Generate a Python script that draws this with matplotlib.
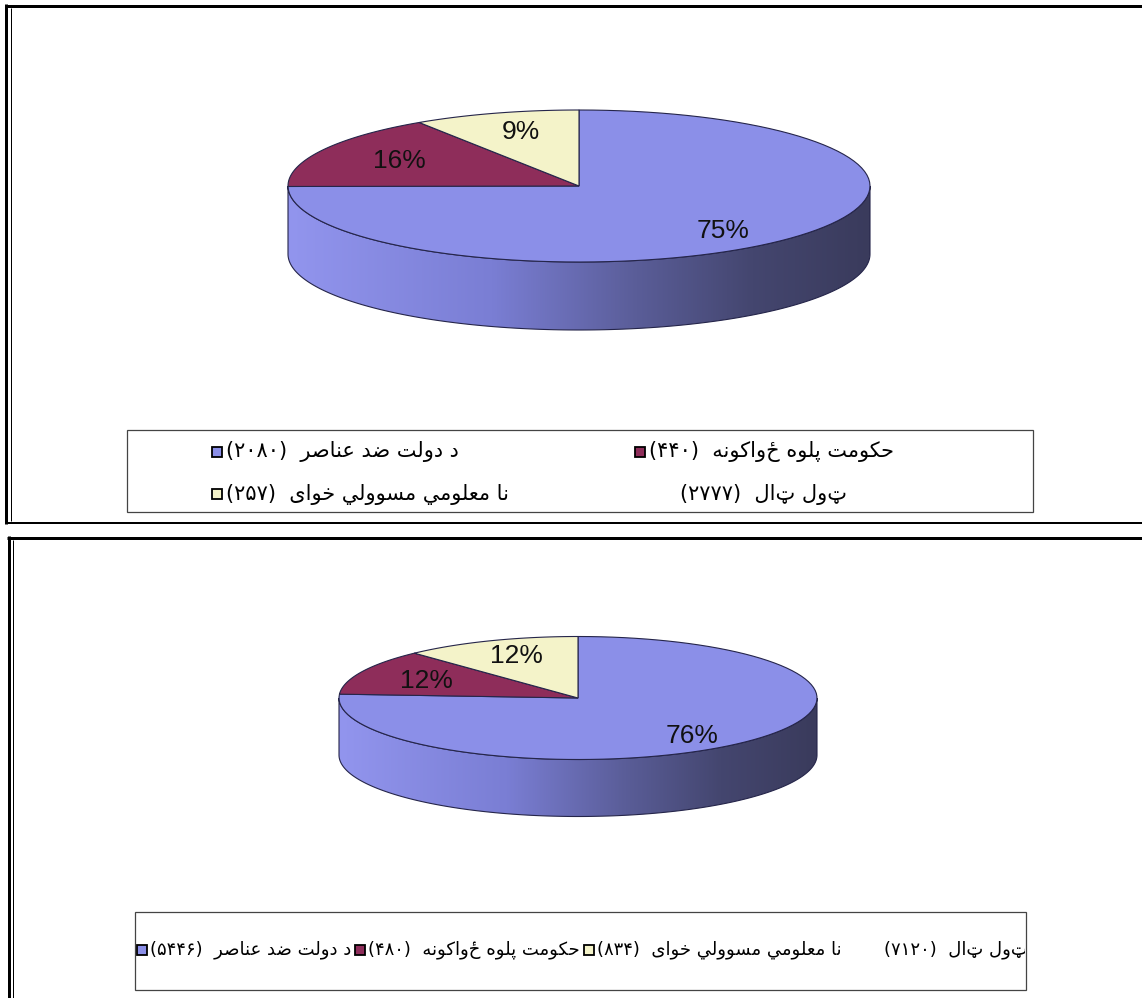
import numpy as np
import matplotlib
matplotlib.use("Agg")
import matplotlib.pyplot as plt
from matplotlib.patches import Polygon, Rectangle
from matplotlib.colors import LinearSegmentedColormap
from matplotlib.transforms import Bbox, TransformedBbox

# Data
labels = ["د دولت ضد عناصر", "حکومت پلوه ځواکونه", "نا معلومي مسوولي خواى"]
total_label = "ټول ټال"

counts1 = [2080, 440, 257]
total1 = 2777

counts2 = [5446, 480, 834]
total2 = 7120
pct2 = [76, 12, 12]  # shares printed on the second pie

colors = ["#8b8fe8", "#8e2d5a", "#f4f3c9"]
edge = "#25254a"
side_cmap = LinearSegmentedColormap.from_list(
    "side", [(0, "#9295ee"), (0.35, "#7a7ed4"), (0.6, "#5a5d98"),
             (0.8, "#44466f"), (1, "#3a3b5c")])

# Arabic shaping by hand (matplotlib has no shaping engine)
FORMS = {
    "\u0627": ("\uFE8D", "\uFE8E"),
    "\u062F": ("\uFEA9", "\uFEAA"),
    "\u0631": ("\uFEAD", "\uFEAE"),
    "\u0648": ("\uFEED", "\uFEEE"),
    "\u0649": ("\uFEEF", "\uFEF0"),
    "\u062A": ("\uFE95", "\uFE96", "\uFE97", "\uFE98"),
    "\u062D": ("\uFEA1", "\uFEA2", "\uFEA3", "\uFEA4"),
    "\u062E": ("\uFEA5", "\uFEA6", "\uFEA7", "\uFEA8"),
    "\u0633": ("\uFEB1", "\uFEB2", "\uFEB3", "\uFEB4"),
    "\u0635": ("\uFEB9", "\uFEBA", "\uFEBB", "\uFEBC"),
    "\u0636": ("\uFEBD", "\uFEBE", "\uFEBF", "\uFEC0"),
    "\u0639": ("\uFEC9", "\uFECA", "\uFECB", "\uFECC"),
    "\u0644": ("\uFEDD", "\uFEDE", "\uFEDF", "\uFEE0"),
    "\u0645": ("\uFEE1", "\uFEE2", "\uFEE3", "\uFEE4"),
    "\u0646": ("\uFEE5", "\uFEE6", "\uFEE7", "\uFEE8"),
    "\u0647": ("\uFEE9", "\uFEEA", "\uFEEB", "\uFEEC"),
    "\u064A": ("\uFEF1", "\uFEF2", "\uFEF3", "\uFEF4"),
    "\u06CC": ("\uFBFC", "\uFBFD", "\uFBFE", "\uFBFF"),
    "\u0643": ("\uFED9", "\uFEDA", "\uFEDB", "\uFEDC"),
    "\u067E": ("\uFB56", "\uFB57", "\uFB58", "\uFB59"),
    "\u06A9": ("\uFB8E", "\uFB8F", "\uFB90", "\uFB91"),
}
FA_DIGITS = str.maketrans("0123456789", "۰۱۲۳۴۵۶۷۸۹")


def shaped(s):
    out = []
    for i, c in enumerate(s):
        f = FORMS.get(c)
        if f is None:
            out.append(c)
            continue
        prev = s[i - 1] if i > 0 else ""
        nxt = s[i + 1] if i + 1 < len(s) else ""
        p = prev in FORMS and len(FORMS[prev]) == 4
        n = len(f) == 4 and nxt in FORMS
        out.append(f[3 if p and n else 1 if p else 2 if n else 0])
    return out


def rtl(s):
    toks = []
    for g in shaped(s):
        if g.isdigit() and toks and toks[-1][0].isdigit():
            toks[-1] += g
        else:
            toks.append(g)
    mirror = {"(": ")", ")": "("}
    return "".join(mirror.get(t, t) for t in reversed(toks))


def entry(label, n):
    return rtl(f"{label}  ({str(n).translate(FA_DIGITS)})")


def pie3d(ax, values, cx, cy, rx, ry, depth, pct):
    fr = np.asarray(values, float) / np.sum(values)
    edges = 90 - 360 * np.concatenate([[0], np.cumsum(fr)])
    # front wall with gradient
    t = np.radians(np.linspace(180, 360, 200))
    ex, ey = cx + rx * np.cos(t), cy - ry * np.sin(t)
    wall = np.concatenate([np.c_[ex, ey], np.c_[ex[::-1], ey[::-1] + depth]])
    poly = Polygon(wall, closed=True, fc="none", ec=edge, lw=0.8, zorder=3)
    ax.add_patch(poly)
    im = ax.imshow(np.linspace(0, 1, 256)[None, :], cmap=side_cmap, aspect="auto",
                   extent=(cx - rx, cx + rx, cy + ry + depth, cy), zorder=2)
    im.set_clip_path(poly)
    # top face
    for i in range(len(fr)):
        a = np.radians(np.linspace(edges[i], edges[i + 1], 100))
        pts = np.vstack([[cx, cy], np.c_[cx + rx * np.cos(a), cy - ry * np.sin(a)]])
        ax.add_patch(Polygon(pts, closed=True, fc=colors[i], ec=edge, lw=0.8, zorder=4))
        m = np.radians((edges[i] + edges[i + 1]) / 2)
        ax.text(cx + 0.7 * rx * np.cos(m), cy - 0.78 * ry * np.sin(m) + 3, f"{pct[i]}%",
                ha="center", va="center", fontsize=19, family="Liberation Sans",
                color="#111111", zorder=5)


def hline(ax, y, x0, x1, px):
    ax.plot([x0, x1], [y, y], color="black", lw=px * 0.72, solid_capstyle="butt")


def vline(ax, x, y0, y1, px):
    ax.plot([x, x], [y0, y1], color="black", lw=px * 0.72, solid_capstyle="butt")


def marker(ax, x, y, color):
    ax.add_patch(Rectangle((x - 5, y - 5), 10, 10, fc=color, ec="black", lw=1.3, zorder=7))


fig = plt.figure(figsize=(11.42, 9.98), dpi=100)
ax = fig.add_axes([0, 0, 1, 1])

# panel frames
hline(ax, 5.5, 4.5, 1142, 3)
vline(ax, 6, 4, 524, 3)
vline(ax, 10.8, 8, 521, 1)
hline(ax, 523, 4.5, 1142, 2)
hline(ax, 537.5, 7, 1142, 3)
vline(ax, 8.5, 536, 998, 3)
vline(ax, 12.5, 540, 998, 1)

# pies
pct1 = [int(round(100 * v / sum(counts1))) for v in counts1]
pie3d(ax, counts1, 579, 186, 291, 76, 68, pct1)
pie3d(ax, pct2, 578, 698, 239, 61.5, 57, pct2)

arab = dict(family="DejaVu Sans", va="center", ha="left", zorder=7)

# legend 1
ax.add_patch(Rectangle((127, 430), 906, 82, fc="white", ec="#444444", lw=0.9, zorder=5))
marker(ax, 217, 452, colors[0])
ax.text(226, 452, entry(labels[0], counts1[0]), fontsize=15, **arab)
marker(ax, 640, 452, colors[1])
ax.text(649, 452, entry(labels[1], counts1[1]), fontsize=15, **arab)
marker(ax, 217, 494, colors[2])
ax.text(226, 494, entry(labels[2], counts1[2]), fontsize=15, **arab)
ax.text(680, 494, entry(total_label, total1), fontsize=15, **arab)

# legend 2 (single row, entries flow left to right, clipped by the box)
ax.add_patch(Rectangle((135, 912), 891, 78, fc="white", ec="#444444", lw=0.9, zorder=5))
ax.set_xlim(0, 1142)
ax.set_ylim(998, 0)
ax.axis("off")
clip2 = TransformedBbox(Bbox.from_extents(136, 912, 1025, 990), ax.transData)
renderer = fig.canvas.get_renderer()
x = 142
for lab, n, c in zip(labels, counts2, colors):
    marker(ax, x, 950, c)
    t = ax.text(x + 8, 950, entry(lab, n), fontsize=13, clip_on=True, **arab)
    t.set_clip_box(clip2)
    x = t.get_window_extent(renderer).x1 + 9
t = ax.text(x + 34, 950, entry(total_label, total2), fontsize=13, clip_on=True, **arab)
t.set_clip_box(clip2)

fig.savefig("out.png", dpi=100)
